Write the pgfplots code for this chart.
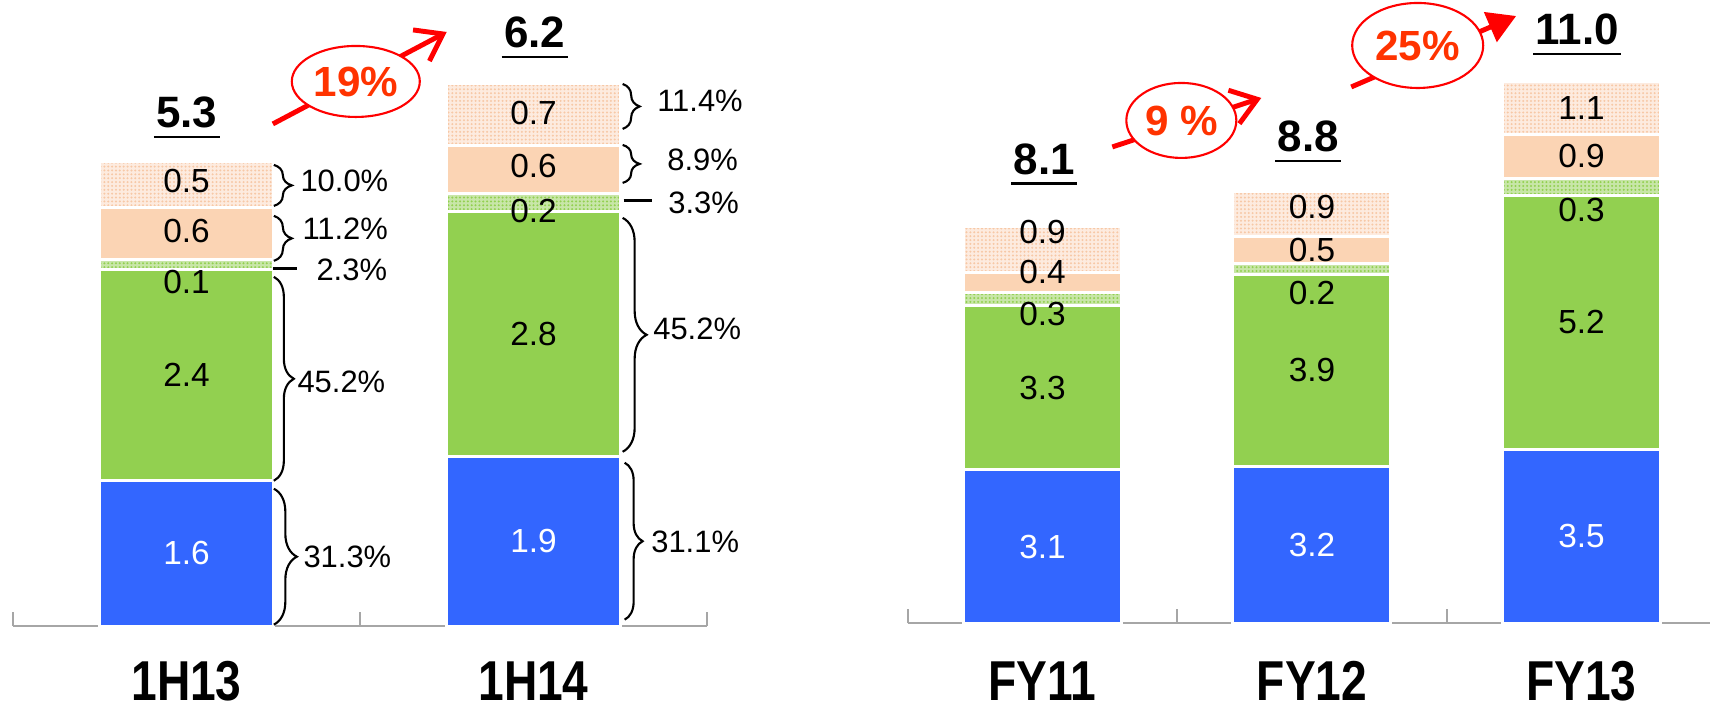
\documentclass[border=0pt]{standalone}
\usepackage{pgfplots}
\pgfplotsset{compat=1.18}
\usepackage{pgfplotstable}
\usepackage{fontspec}
\setmainfont{Liberation Sans}
\newfontfamily\narrowfont[FakeStretch=0.82]{Liberation Sans}
\usetikzlibrary{decorations.pathreplacing,arrows.meta,patterns.meta}

\definecolor{cblue}{HTML}{3366FF}
\definecolor{cgreen}{HTML}{92D050}
\definecolor{clgreen}{HTML}{C8E6A8}
\definecolor{cpeach}{HTML}{FBD4B4}
\definecolor{cpale}{HTML}{FDEBDF}
\definecolor{cdot}{HTML}{F7C8A6}
\definecolor{cred}{HTML}{FF0000}
\definecolor{corange}{HTML}{FF3300}
\definecolor{caxis}{HTML}{A6A6A6}

% segment height, printed label, label shift in px
\pgfplotstableread{
x y    lab sh
0 1.66 1.6 0
1 1.93 1.9 0
}\hblue
\pgfplotstableread{
x y    lab sh
0 2.40 2.4 0
1 2.80 2.8 0
}\hgreen
\pgfplotstableread{
x y    lab sh
0 0.12 0.1 -17
1 0.20 0.2 -9
}\hlgreen
\pgfplotstableread{
x y    lab sh
0 0.59 0.6 3
1 0.55 0.6 3.5
}\hpeach
\pgfplotstableread{
x y    lab sh
0 0.53 0.5 3
1 0.71 0.7 1.5
}\hpale

\pgfplotstableread{
x y    lab sh
0 3.12 3.1 0
1 3.19 3.2 0
2 3.54 3.5 0
}\fblue
\pgfplotstableread{
x y    lab sh
0 3.33 3.3 0
1 3.90 3.9 0
2 5.16 5.2 0
}\fgreen
\pgfplotstableread{
x y    lab sh
0 0.27 0.3 -15
1 0.22 0.2 -24
2 0.34 0.3 -23
}\flgreen
\pgfplotstableread{
x y    lab sh
0 0.42 0.4 10
1 0.56 0.5 0
2 0.90 0.9 0
}\fpeach
\pgfplotstableread{
x y    lab sh
0 0.93 0.9 17
1 0.91 0.9 7
2 1.07 1.1 0
}\fpale

\pgfplotsset{
  seg/.style={fill=#1, draw=white, line width=0.85pt},
  dotted seg/.style 2 args={fill=#1, draw=white, line width=0.85pt,
    postaction={pattern={Dots[distance=1.1pt, radius=0.32pt]}, pattern color=#2,
      draw=white, line width=0.85pt}},
  labels/.style={
    nodes near coords, point meta=explicit symbolic,
    visualization depends on={\thisrow{sh} \as \lblsh},
    every node near coord/.append style={font=\fontsize{9.5}{11}\selectfont,
      text=#1, inner sep=0pt, anchor=center, yshift={\lblsh*0.01cm}},
  },
  panel/.style={
    scale only axis, ybar stacked, clip=false, enlargelimits=false,
    ymin=0, xmin=-0.5,
    axis x line*=bottom, axis y line=none,
    x axis line style={caxis, line width=0.6pt, -},
    tick style={caxis, line width=0.6pt},
    major tick length=0pt,
    extra x tick labels={},
    extra x tick style={major tick length=0.14cm, tick align=inside},
    xticklabel style={font=\narrowfont\bfseries\fontsize{16}{18}\selectfont,
      anchor=base, inner sep=0pt},
  },
}

\tikzset{
  tot/.style={font=\bfseries\fontsize{12.5}{14}\selectfont, anchor=base, inner sep=0.5pt},
  pct/.style={font=\fontsize{8.8}{10}\selectfont, anchor=west, inner sep=0pt},
  brc/.style={decorate, decoration={brace, amplitude=#1}, line width=0.6pt},
  uparrow/.style={draw=cred, line width=1.4pt},
  bub/.style={draw=cred, line width=0.6pt, fill=white},
  bubtxt/.style={text=corange, font=\bfseries\fontsize{12}{14}\selectfont},
}

\begin{document}
\begin{tikzpicture}

\begin{axis}[panel,
  at={(0.13cm,-6.26cm)}, anchor=south west,
  width=6.94cm, height=6.139cm, xmax=1.5, ymax=7, bar width=1.74cm,
  xtick={0,1}, xticklabels={1H13,1H14},
  extra x ticks={-0.5,0.5,1.5},
  xticklabel style={yshift=-0.74cm},
]
\addplot[seg=cblue, labels=white] table[x=x, y=y, meta=lab] {\hblue};
\addplot[seg=cgreen, labels=black] table[x=x, y=y, meta=lab] {\hgreen};
\addplot[dotted seg={clgreen}{cgreen}, labels=black] table[x=x, y=y, meta=lab] {\hlgreen};
\addplot[seg=cpeach, labels=black] table[x=x, y=y, meta=lab] {\hpeach};
\addplot[dotted seg={cpale}{cdot}, labels=black] table[x=x, y=y, meta=lab] {\hpale};
\end{axis}

\begin{axis}[panel,
  at={(9.077cm,-6.233cm)}, anchor=south west,
  width=8.023cm, height=5.904cm, xmax=2.477, ymax=12, bar width=1.58cm,
  xtick={0,1,2}, xticklabels={FY11,FY12,FY13},
  extra x ticks={-0.5,0.5,1.5},
  xticklabel style={yshift=-0.767cm},
]
\addplot[seg=cblue, labels=white] table[x=x, y=y, meta=lab] {\fblue};
\addplot[seg=cgreen, labels=black] table[x=x, y=y, meta=lab] {\fgreen};
\addplot[dotted seg={clgreen}{cgreen}, labels=black] table[x=x, y=y, meta=lab] {\flgreen};
\addplot[seg=cpeach, labels=black] table[x=x, y=y, meta=lab] {\fpeach};
\addplot[dotted seg={cpale}{cdot}, labels=black] table[x=x, y=y, meta=lab] {\fpale};
\end{axis}

\begin{scope}[x=0.01cm, y=-0.01cm]
% totals
\node[tot] (t1) at (187,128) {5.3};
\node[tot] (t2) at (535,48) {6.2};
\node[tot] (t3) at (1045,175) {8.1};
\node[tot] (t4) at (1309,152) {8.8};
\node[tot] (t5) at (1578,45) {11.0};
\foreach \t in {t1,t2,t3,t4,t5}
  \draw[line width=0.8pt] ([yshift=-0.09cm]\t.base west) -- ([yshift=-0.09cm]\t.base east);

% growth arrows
\draw[uparrow, -{Straight Barb[length=7pt, width=10pt]}] (273,124) -- (447,32);
\draw[bub] (356,81.5) ellipse [x radius=0.64cm, y radius=0.355cm];
\node[bubtxt] at (356,82) {19\%};
\draw[uparrow, -{Straight Barb[length=7pt, width=10pt]}] (1113,147) -- (1262,98);
\draw[bub] (1182,120.5) ellipse [x radius=0.55cm, y radius=0.375cm];
\node[bubtxt] at (1182,121) {9 \%};
\draw[uparrow, -{Triangle[length=8pt, width=9pt]}] (1352,87) -- (1517,16);
\draw[bub] (1418.5,45.5) ellipse [x radius=0.655cm, y radius=0.425cm];
\node[bubtxt] at (1418.5,46) {25\%};

% shares, 1H13
\draw[brc=0.18cm] (274,165) -- (274,206);
\node[pct] at (300,181) {10.0\%};
\draw[brc=0.18cm] (274,216) -- (274,261);
\node[pct] at (302,229) {11.2\%};
\draw[line width=0.8pt] (273,269) -- (297,269);
\node[pct] at (316,270) {2.3\%};
\draw[brc=0.2cm] (274,277) -- (274,481);
\node[pct] at (297,382) {45.2\%};
\draw[brc=0.23cm] (274,489) -- (274,625);
\node[pct] at (303,557) {31.3\%};

% shares, 1H14
\draw[brc=0.17cm] (623,84) -- (623,129);
\node[pct] at (657,101) {11.4\%};
\draw[brc=0.17cm] (623,145) -- (623,183);
\node[pct] at (667,160) {8.9\%};
\draw[line width=0.8pt] (624,201) -- (652,201);
\node[pct] at (668,203) {3.3\%};
\draw[brc=0.24cm] (623,218) -- (623,452);
\node[pct] at (653,329) {45.2\%};
\draw[brc=0.18cm] (625,463) -- (625,620);
\node[pct] at (651,542) {31.1\%};
\end{scope}

\pgfresetboundingbox
\path[use as bounding box] (0,0) rectangle (17.1cm,-7.04cm);
\end{tikzpicture}
\end{document}
